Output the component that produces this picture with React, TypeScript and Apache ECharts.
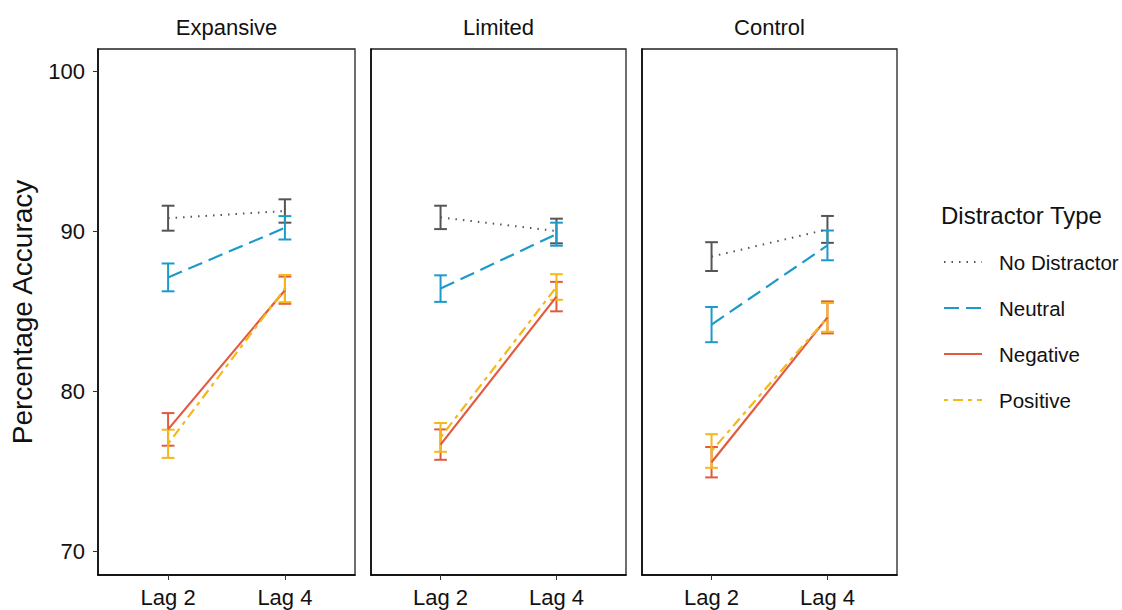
import React, { useEffect, useRef } from "react";
import * as echarts from "echarts";

const panels = ["Expansive", "Limited", "Control"];
const lagLabels = ["Lag 2", "Lag 4"];
const yTicks = [70, 80, 90, 100];
const seriesNames = ["No Distractor", "Neutral", "Negative", "Positive"];

// means per panel [Lag 2, Lag 4]
const noDistractorMean = [[90.8, 91.25], [90.85, 90.0], [88.4, 90.1]];
const noDistractorErr = [[0.78, 0.73], [0.73, 0.77], [0.9, 0.84]];
const neutralMean = [[87.1, 90.2], [86.4, 89.8], [84.15, 89.1]];
const neutralErr = [[0.87, 0.73], [0.83, 0.72], [1.1, 0.93]];
const negativeMean = [[77.6, 86.3], [76.65, 85.9], [75.55, 84.6]];
const negativeErr = [[1.02, 0.85], [0.95, 0.92], [0.95, 1.0]];
const positiveMean = [[76.7, 86.4], [77.1, 86.5], [76.25, 84.6]];
const positiveErr = [[0.88, 0.85], [0.9, 0.8], [1.05, 0.9]];

const colors = ["#555555", "#1c9bcb", "#e25a3f", "#f5b81a"];
const dashes: any[] = [[1.5, 6], [15, 7], "solid", [4, 5, 10, 5]];
const allMeans = [noDistractorMean, neutralMean, negativeMean, positiveMean];
const allErrs = [noDistractorErr, neutralErr, negativeErr, positiveErr];

const FONT = "Liberation Sans, Arial, sans-serif";

export default function App() {
  const ref = useRef<HTMLDivElement>(null);
  useEffect(() => {
    document.body.style.margin = "0";
    const chart = echarts.init(ref.current!, null, { renderer: "svg" });
    const lefts = [98, 371, 642];
    const widths = [257, 255, 255];
    const grids = lefts.map((l, i) => ({
      left: l,
      top: 49,
      width: widths[i],
      height: 526,
      show: true,
      borderColor: "#222",
      borderWidth: 1.3,
      backgroundColor: "transparent",
    }));
    const xAxes = panels.map((_, i) => ({
      type: "value",
      gridIndex: i,
      min: 0.4,
      max: 2.6,
      splitLine: { show: false },
      axisLine: { show: true, onZero: false, lineStyle: { color: "#000", width: 1.5 } },
      axisTick: { show: true, length: 5, customValues: [1, 2], lineStyle: { color: "#333" } },
      axisLabel: {
        customValues: [1, 2],
        formatter: (v: number) => (v === 1 ? lagLabels[0] : v === 2 ? lagLabels[1] : ""),
        color: "#111",
        fontSize: 22,
        fontFamily: FONT,
        margin: 11,
      },
    }));
    const yAxes = panels.map((_, i) => ({
      type: "value",
      gridIndex: i,
      min: 68.5,
      max: 101.375,
      splitLine: { show: false },
      axisLine: { show: true, onZero: false, lineStyle: { color: "#000", width: 1.5 } },
      axisTick: { show: i === 0, length: 5, customValues: yTicks, lineStyle: { color: "#333" } },
      axisLabel: {
        show: i === 0,
        customValues: yTicks,
        color: "#111",
        fontSize: 22,
        fontFamily: FONT,
        margin: 13,
      },
      name: i === 0 ? "Percentage Accuracy" : "",
      nameLocation: "middle",
      nameRotate: 90,
      nameGap: 62,
      nameTextStyle: { fontSize: 28, color: "#111", fontFamily: FONT },
    }));

    const series: any[] = [];
    panels.forEach((_, p) => {
      seriesNames.forEach((name, s) => {
        const m = allMeans[s][p];
        const e = allErrs[s][p];
        series.push({
          type: "custom",
          name: name + " err",
          xAxisIndex: p,
          yAxisIndex: p,
          encode: { x: 0, y: [1, 2] },
          data: [1, 2].map((x, k) => [x, m[k] - e[k], m[k] + e[k]]),
          renderItem: (params: any, api: any) => {
            const x = api.value(0);
            const lo = api.coord([x, api.value(1)]);
            const hi = api.coord([x, api.value(2)]);
            const half = api.size([0.11, 0])[0] / 2;
            const style = { stroke: colors[s], lineWidth: 2 };
            return {
              type: "group",
              children: [
                { type: "line", shape: { x1: lo[0], y1: lo[1], x2: hi[0], y2: hi[1] }, style },
                { type: "line", shape: { x1: lo[0] - half, y1: lo[1], x2: lo[0] + half, y2: lo[1] }, style },
                { type: "line", shape: { x1: hi[0] - half, y1: hi[1], x2: hi[0] + half, y2: hi[1] }, style },
              ],
            };
          },
          z: 2,
        });
        series.push({
          type: "line",
          name,
          xAxisIndex: p,
          yAxisIndex: p,
          data: [1, 2].map((x, k) => [x, m[k]]),
          symbol: "none",
          lineStyle: { color: colors[s], width: s === 0 ? 2 : 2.2, type: dashes[s] },
          z: 3,
        });
      });
    });

    const centers = lefts.map((l, i) => l + widths[i] / 2);
    const graphic: any[] = [];
    panels.forEach((t, i) => {
      graphic.push({
        type: "text",
        x: centers[i],
        y: 27,
        style: { text: t, fontSize: 22, fontFamily: FONT, fill: "#111", textAlign: "center", textVerticalAlign: "middle" },
      });
    });
    graphic.push({
      type: "text",
      x: 941,
      y: 215,
      style: { text: "Distractor Type", fontSize: 24, fontFamily: FONT, fill: "#111", textAlign: "left", textVerticalAlign: "middle" },
    });
    seriesNames.forEach((n, s) => {
      const y = 262 + s * 46;
      graphic.push({
        type: "line",
        shape: { x1: 944, y1: y, x2: 982, y2: y },
        style: { stroke: colors[s], lineWidth: 2.2, lineDash: dashes[s] === "solid" ? null : dashes[s] },
      });
      graphic.push({
        type: "text",
        x: 999,
        y,
        style: { text: n, fontSize: 20.5, fontFamily: FONT, fill: "#111", textAlign: "left", textVerticalAlign: "middle" },
      });
    });

    chart.setOption({
      animation: false,
      backgroundColor: "#fff",
      grid: grids,
      xAxis: xAxes,
      yAxis: yAxes,
      series,
      graphic,
    });
    return () => chart.dispose();
  }, []);
  return <div ref={ref} style={{ width: 1122, height: 610 }} />;
}
